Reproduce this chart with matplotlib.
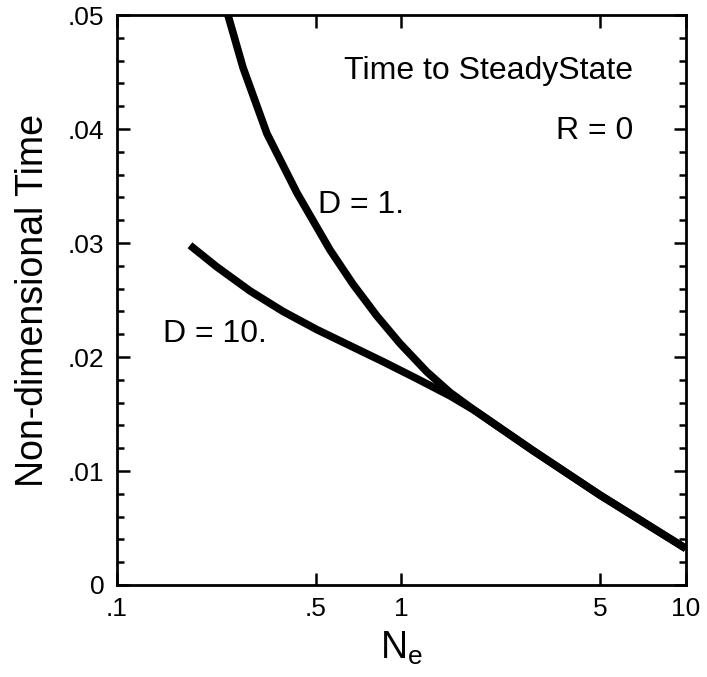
import numpy as np
import matplotlib
matplotlib.use("Agg")
import matplotlib.pyplot as plt
from matplotlib.ticker import FixedLocator, MultipleLocator, NullLocator

plt.rcParams["font.family"] = ["Liberation Sans", "DejaVu Sans"]
plt.rcParams["mathtext.fontset"] = "custom"
plt.rcParams["mathtext.rm"] = "Liberation Sans"

# data
ne_d1 = [0.2455, 0.2773, 0.3366, 0.4292, 0.5608, 0.6753, 0.8201, 0.9878, 1.229, 1.481,
         1.813, 2.899, 4.985, 10.0]
t_d1 = [0.0500, 0.0454, 0.0396, 0.0344, 0.0294, 0.0264, 0.0236, 0.0212, 0.0187, 0.0169,
        0.0153, 0.0118, 0.0079, 0.0032]

ne_d10 = [0.1805, 0.2246, 0.2934, 0.3834, 0.5047, 0.6592, 0.8610, 1.1335, 1.481,
          1.813, 2.899, 4.985, 10.0]
t_d10 = [0.0298, 0.0279, 0.0258, 0.0240, 0.0224, 0.0210, 0.0196, 0.0181, 0.0166,
         0.0153, 0.0118, 0.0079, 0.0032]

xticks = [0.1, 0.5, 1, 5, 10]
xticklabels = [".1", ".5", "1", "5", "10"]
yticks = [0, 0.01, 0.02, 0.03, 0.04, 0.05]
yticklabels = ["0", ".01", ".02", ".03", ".04", ".05"]

fig = plt.figure(figsize=(7.07, 6.77), dpi=100)
ax = fig.add_axes([0.1655, 0.1359, 0.8045, 0.8419])

ax.plot(ne_d1, t_d1, color="black", lw=5.5, solid_capstyle="butt", solid_joinstyle="round")
ax.plot(ne_d10, t_d10, color="black", lw=5.5, solid_capstyle="butt", solid_joinstyle="round")

ax.set_xscale("log")
ax.set_xlim(0.1, 10)
ax.set_ylim(0, 0.05)

ax.xaxis.set_major_locator(FixedLocator(xticks))
ax.xaxis.set_minor_locator(NullLocator())
ax.set_xticklabels(xticklabels)
ax.set_yticks(yticks)
ax.set_yticklabels(yticklabels)
ax.yaxis.set_minor_locator(MultipleLocator(0.002))

ax.tick_params(which="both", direction="in", top=True, right=True,
               width=1.8, labelsize=19)
ax.tick_params(which="major", length=9, pad=9)
ax.tick_params(which="minor", length=5)
for s in ax.spines.values():
    s.set_linewidth(2)

ax.set_xlabel(r"N$_\mathregular{e}$", fontsize=27, labelpad=6)
ax.set_ylabel("Non-dimensional Time", fontsize=27, labelpad=12)

ax.text(6.51, 0.0444, "Time to SteadyState", fontsize=23, ha="right", va="baseline")
ax.text(6.51, 0.0391, "R = 0", fontsize=23, ha="right", va="baseline")
ax.text(0.509, 0.0326, "D = 1.", fontsize=23, ha="left", va="baseline")
ax.text(0.145, 0.0213, "D = 10.", fontsize=23, ha="left", va="baseline")

fig.savefig("out.png", dpi=100)
